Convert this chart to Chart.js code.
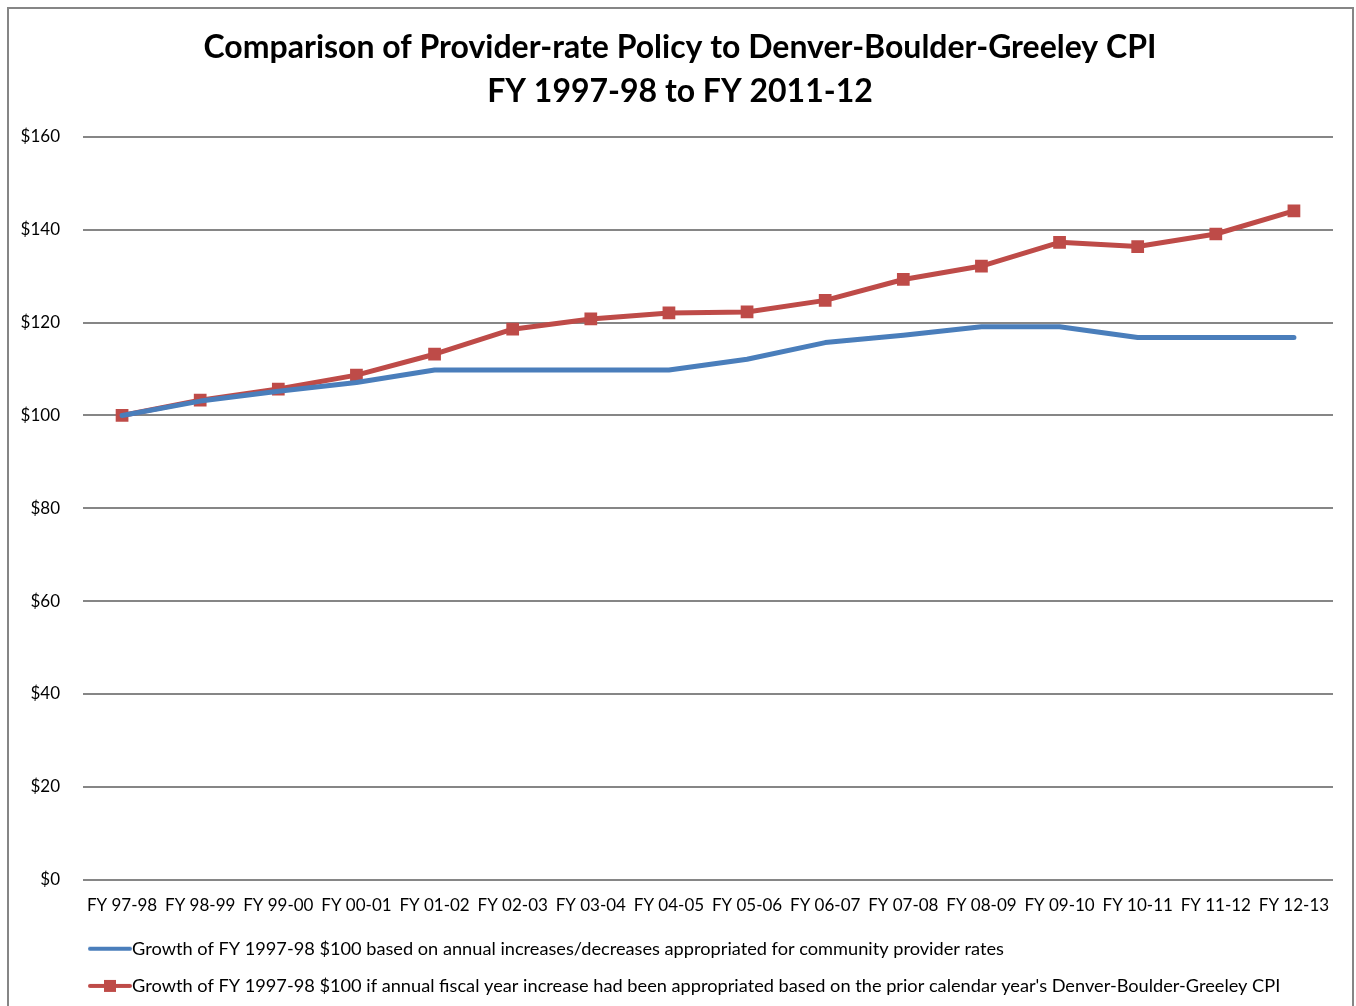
<!DOCTYPE html>
<html>
<head>
<meta charset="utf-8">
<script src="https://cdn.jsdelivr.net/npm/chart.js@4.4.0/dist/chart.umd.min.js"></script>
<style>
  html, body { margin: 0; padding: 0; background: #fff; overflow: hidden; }
  #wrap { position: relative; width: 1356px; height: 1006px; }
</style>
</head>
<body>
<div id="wrap"><canvas id="chart" width="1356" height="1006"></canvas></div>
<script>
// ================= Data =================
const categories = [
  "FY 97-98", "FY 98-99", "FY 99-00", "FY 00-01", "FY 01-02", "FY 02-03",
  "FY 03-04", "FY 04-05", "FY 05-06", "FY 06-07", "FY 07-08", "FY 08-09",
  "FY 09-10", "FY 10-11", "FY 11-12", "FY 12-13"
];
const providerRate = [100, 103.1, 105.2, 107.1, 109.8, 109.8, 109.8, 109.8, 112.1, 115.7, 117.3, 119.1, 119.1, 116.8, 116.8, 116.8];
const cpiGrowth = [100, 103.3, 105.7, 108.7, 113.2, 118.6, 120.8, 122.1, 122.3, 124.8, 129.3, 132.2, 137.3, 136.4, 139.1, 144.1];
const seriesNames = [
  "Growth of FY 1997-98 $100 based on annual increases/decreases appropriated for community provider rates",
  "Growth of FY 1997-98 $100 if annual fiscal year increase had been appropriated based on the prior calendar year's Denver-Boulder-Greeley CPI"
];
const titleLines = ["Comparison of Provider-rate Policy to Denver-Boulder-Greeley CPI", "FY 1997-98 to FY 2011-12"];

const BLUE = "#4A7EBB";
const RED = "#BE4B48";
const GRID = "#868686";
const FONT = "Lato, 'Open Sans', sans-serif";

// legend icons: line with (optional) square marker
function legendIcon(color, marker) {
  const c = document.createElement("canvas");
  c.width = 44; c.height = 14;
  const g = c.getContext("2d");
  g.strokeStyle = color;
  g.lineWidth = 4;
  g.lineCap = "round";
  g.beginPath(); g.moveTo(2, 7); g.lineTo(42, 7); g.stroke();
  if (marker) { g.fillStyle = color; g.fillRect(16, 1, 12, 12); }
  return c;
}

// frame around the chart; nudge title + legend to where Excel put them
const framePlugin = {
  id: "frame",
  afterLayout(chart) {
    chart.titleBlock.left = 27;
    chart.legend.left = 78;
  },
  beforeDraw(chart) {
    const ctx = chart.ctx;
    ctx.save();
    ctx.fillStyle = "#fff";
    ctx.fillRect(0, 0, chart.width, chart.height);
    ctx.strokeStyle = GRID;
    ctx.lineWidth = 2;
    ctx.strokeRect(8, 8, 1345, 1100);
    ctx.restore();
  }
};

new Chart(document.getElementById("chart"), {
  type: "line",
  data: {
    labels: categories,
    datasets: [
      {
        label: seriesNames[0],
        data: providerRate,
        borderColor: BLUE,
        backgroundColor: BLUE,
        borderWidth: 5,
        pointRadius: 0,
        borderJoinStyle: "round",
        borderCapStyle: "round",
        tension: 0
      },
      {
        label: seriesNames[1],
        data: cpiGrowth,
        borderColor: RED,
        backgroundColor: RED,
        borderWidth: 5,
        pointStyle: "rect",
        pointRadius: 9,
        pointBorderWidth: 0,
        borderJoinStyle: "round",
        borderCapStyle: "round",
        tension: 0
      }
    ]
  },
  options: {
    responsive: false,
    animation: false,
    layout: { padding: { left: 8, right: 23, top: 26, bottom: 1 } },
    plugins: {
      tooltip: { enabled: false },
      title: {
        display: true,
        text: titleLines,
        color: "#000",
        font: { family: FONT, size: 32, weight: "bold", lineHeight: 1.375 },
        padding: { top: 0, bottom: 23 }
      },
      legend: {
        position: "bottom",
        align: "start",
        labels: {
          color: "#000",
          font: { family: FONT, size: 18.2 },
          padding: 19,
          usePointStyle: true,
          pointStyleWidth: 26,
          generateLabels(chart) {
            return chart.data.datasets.map((ds, i) => ({
              text: ds.label,
              pointStyle: legendIcon(ds.borderColor, i === 1),
              fillStyle: ds.borderColor,
              strokeStyle: ds.borderColor,
              lineWidth: 0,
              datasetIndex: i
            }));
          }
        }
      }
    },
    scales: {
      x: {
        offset: true,
        grid: { display: false, drawTicks: false },
        border: { display: false },
        ticks: { color: "#000", font: { family: FONT, size: 17 }, padding: 16, maxRotation: 0, autoSkip: false },
        afterFit(scale) { scale.height = 41; }
      },
      y: {
        min: 0,
        max: 160,
        grid: { color: GRID, lineWidth: 2, drawTicks: false },
        border: { display: false },
        ticks: {
          stepSize: 20,
          color: "#000",
          font: { family: FONT, size: 17 },
          padding: 23,
          callback: v => "$" + v
        },
        afterFit(scale) { scale.width = 75; }
      }
    }
  },
  plugins: [framePlugin]
});
</script>
</body>
</html>
